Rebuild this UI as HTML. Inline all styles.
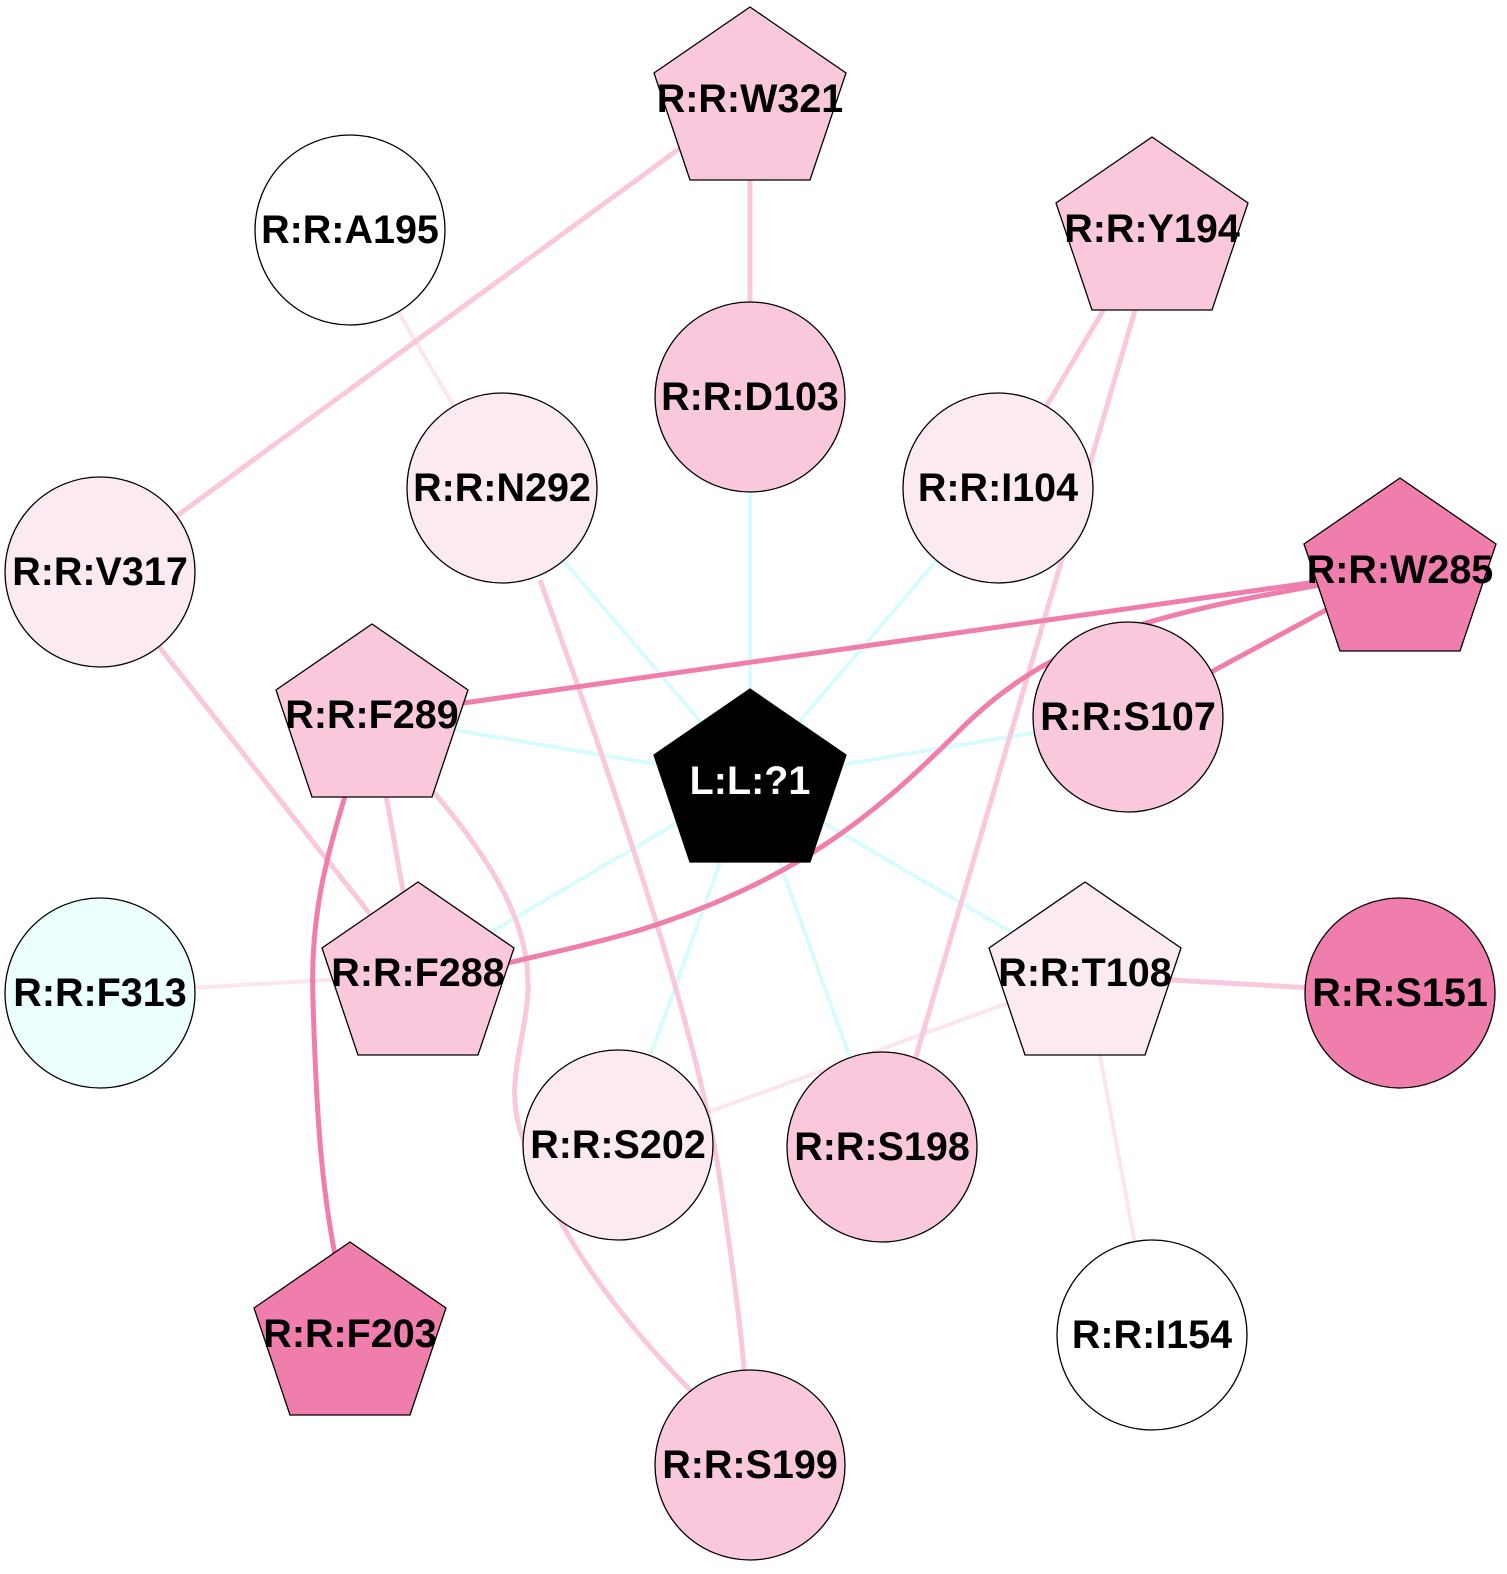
<!DOCTYPE html>
<html><head><style>body{margin:0;background:#fff}svg{display:block}</style></head><body>
<svg width="1507" height="1574" viewBox="0 0 1507 1574" xmlns="http://www.w3.org/2000/svg">
<g fill="none" stroke-linecap="butt">
<g stroke="#d8fcfc" stroke-width="4">
<line x1="750" y1="780" x2="750" y2="397"/>
<line x1="750" y1="780" x2="502" y2="488"/>
<line x1="750" y1="780" x2="998" y2="488"/>
<line x1="750" y1="780" x2="372" y2="716"/>
<line x1="750" y1="780" x2="1128" y2="717"/>
<line x1="750" y1="780" x2="418" y2="975"/>
<line x1="750" y1="780" x2="618" y2="1145"/>
<line x1="750" y1="780" x2="882" y2="1147"/>
<line x1="750" y1="780" x2="1085" y2="975"/>
</g>
<g stroke="#fbe6ee" stroke-width="4">
<line x1="350" y1="230" x2="502" y2="488"/>
<line x1="100" y1="993" x2="418" y2="975"/>
<line x1="1085" y1="975" x2="618" y2="1145"/>
<line x1="1085" y1="975" x2="1152" y2="1335"/>
</g>
<g stroke="#f9c8dc" stroke-width="5">
<line x1="750" y1="97" x2="750" y2="397"/>
<line x1="750" y1="97" x2="100" y2="572"/>
<line x1="1152" y1="228" x2="998" y2="488"/>
<line x1="1138" y1="300" x2="915" y2="1060"/>
<line x1="372" y1="716" x2="418" y2="975"/>
<line x1="100" y1="572" x2="418" y2="975"/>
<path d="M540,580 C620,800 700,1040 720,1180 C735,1280 742,1340 745,1380"/>
<line x1="1085" y1="975" x2="1400" y2="993"/>
<path d="M432,790 C500,870 530,930 528,990 C526,1040 505,1080 520,1130 C560,1250 640,1340 700,1400"/>
</g>
<g stroke="#f07ead" stroke-width="5">
<line x1="372" y1="716" x2="1400" y2="570"/>
<line x1="1128" y1="717" x2="1400" y2="570"/>
<path d="M1320,585 C1150,615 1050,640 960,730 C880,810 800,880 640,930 C590,945 540,955 500,965"/>
<path d="M347,790 C325,860 310,920 313,1000 C316,1100 320,1180 336,1260"/>
</g>
</g>
<g stroke="#000" stroke-width="1.3">
<circle cx="350" cy="230" r="95" fill="#fff"/>
<circle cx="750" cy="397" r="95" fill="#f9c8dc"/>
<circle cx="502" cy="488" r="95" fill="#fbeaf2"/>
<circle cx="998" cy="488" r="95" fill="#fbeaf2"/>
<circle cx="100" cy="572" r="95" fill="#fbeaf2"/>
<circle cx="1128" cy="717" r="95" fill="#f9c8dc"/>
<circle cx="100" cy="993" r="95" fill="#eafffe"/>
<circle cx="618" cy="1145" r="95" fill="#fbeaf2"/>
<circle cx="882" cy="1147" r="95" fill="#f9c8dc"/>
<circle cx="1400" cy="993" r="95" fill="#f07ead"/>
<circle cx="1152" cy="1335" r="95" fill="#fff"/>
<circle cx="750" cy="1465" r="95" fill="#f9c8dc"/>
<polygon points="750,7 846,73 810,180 690,180 654,73" fill="#f9c8dc"/>
<polygon points="1152,137 1248,203 1212,310 1092,310 1056,203" fill="#f9c8dc"/>
<polygon points="1400,478 1496,544 1460,651 1340,651 1304,544" fill="#f07ead"/>
<polygon points="372,624 468,690 432,797 312,797 276,690" fill="#f9c8dc"/>
<polygon points="750,689 846,755 810,862 690,862 654,755" fill="#000"/>
<polygon points="418,882 514,948 478,1055 358,1055 322,948" fill="#f9c8dc"/>
<polygon points="1085,882 1181,948 1145,1055 1025,1055 989,948" fill="#fbeaf2"/>
<polygon points="350,1242 446,1308 410,1415 290,1415 254,1308" fill="#f07ead"/>
</g>
<g font-family="Liberation Sans, sans-serif" font-weight="bold" font-size="39.5" text-anchor="middle" dominant-baseline="central" fill="#000">
<text x="350" y="230">R:R:A195</text>
<text x="750" y="397">R:R:D103</text>
<text x="502" y="488">R:R:N292</text>
<text x="998" y="488">R:R:I104</text>
<text x="100" y="572">R:R:V317</text>
<text x="1128" y="717">R:R:S107</text>
<text x="100" y="993">R:R:F313</text>
<text x="618" y="1145">R:R:S202</text>
<text x="882" y="1147">R:R:S198</text>
<text x="1400" y="993">R:R:S151</text>
<text x="1152" y="1335">R:R:I154</text>
<text x="750" y="1465">R:R:S199</text>
<text x="750" y="99">R:R:W321</text>
<text x="1152" y="229">R:R:Y194</text>
<text x="1400" y="570">R:R:W285</text>
<text x="372" y="715">R:R:F289</text>
<text x="750" y="781" fill="#fff">L:L:?1</text>
<text x="418" y="973">R:R:F288</text>
<text x="1085" y="973">R:R:T108</text>
<text x="350" y="1334">R:R:F203</text>
</g>
</svg>
</body></html>
